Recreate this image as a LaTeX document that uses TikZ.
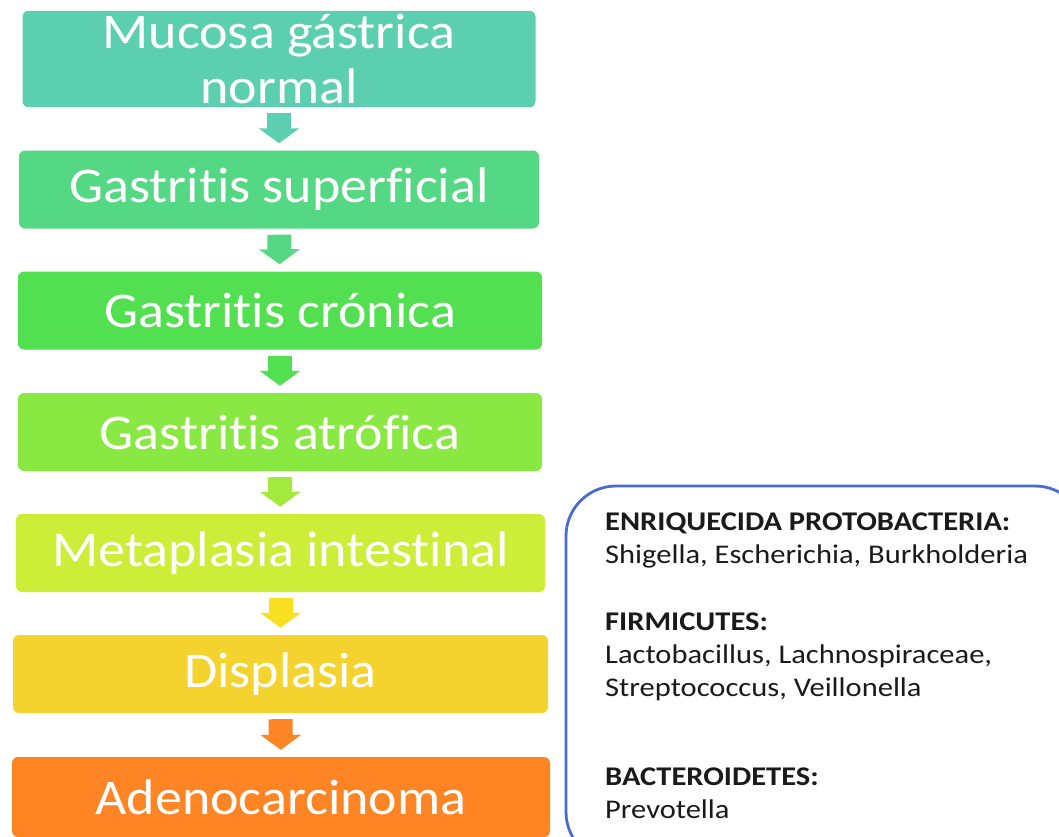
\documentclass[tikz,border=0pt]{standalone}
\usepackage{fontspec}
\setmainfont{Carlito}[Ligatures=NoCommon]
\newfontfamily\etapafont{Carlito}[FakeStretch=1.08, Ligatures=NoCommon]
\newfontfamily\bacfont{Carlito}[FakeStretch=1.13, Ligatures=NoCommon]
\usetikzlibrary{arrows.meta}
\definecolor{etMucosa}{HTML}{5DCFB1}
\definecolor{etSuperf}{HTML}{55D883}
\definecolor{etCronica}{HTML}{52DF50}
\definecolor{etAtrof}{HTML}{89E842}
\definecolor{etMeta}{HTML}{CCEE39}
\definecolor{etDispl}{HTML}{F5D32E}
\definecolor{etAdeno}{HTML}{FF8424}
\definecolor{bacAzul}{HTML}{4A6BD6}
\definecolor{bacTexto}{HTML}{1A1A1A}

\begin{document}
\begin{tikzpicture}[x=1pt, y=-1pt,
      etapa/.style={rounded corners=6pt, fill=#1, minimum height=78pt,
                    text=white, align=center,
                    font=\etapafont\fontsize{50}{55}\selectfont},
      flujo/.style={line width=24pt, draw=#1,
                    -{Triangle[width=40pt,length=15pt]},
                    shorten <=6pt, shorten >=7pt},
      grupo/.style={anchor=north west, align=left, text=bacTexto,
                    font=\bacfont\fontsize{27}{33}\selectfont, inner sep=0pt}]
    \clip (0,0) rectangle (1059,836);
    \useasboundingbox (0,0) rectangle (1059,836);
    % Secuencia de lesiones
    \node[etapa=etMucosa, minimum width=513pt, minimum height=96pt] (b1) at (279,59) {Mucosa g\'astrica\\normal};
    \node[etapa=etSuperf,  minimum width=520pt] (b2) at (279,189.5) {Gastritis superficial};
    \node[etapa=etCronica, minimum width=524pt] (b3) at (280,310.5) {Gastritis cr\'onica};
    \node[etapa=etAtrof,   minimum width=524pt] (b4) at (280,432) {Gastritis atr\'ofica};
    \node[etapa=etMeta,    minimum width=529pt] (b5) at (280.5,553) {Metaplasia intestinal};
    \node[etapa=etDispl,   minimum width=535pt] (b6) at (280.5,674) {Displasia};
    \node[etapa=etAdeno,   minimum width=538pt, minimum height=80pt] (b7) at (281,797) {Adenocarcinoma};
    \draw[flujo=etMucosa]        (b1) -- (b2);
    \draw[flujo=etSuperf]        (b2) -- (b3);
    \draw[flujo=etCronica]       (b3) -- (b4);
    \draw[flujo=etAtrof!60!etMeta] (b4) -- (b5);
    \draw[flujo=etDispl!70!yellow] (b5) -- (b6);
    \draw[flujo=etAdeno]         (b6) -- (b7);
    % Microbiota
    \draw[bacAzul, line width=2.8pt, rounded corners=50pt] (566,486) rectangle (1085,862);
    \node[grupo] (g1) at (605,513) {\textbf{ENRIQUECIDA PROTOBACTERIA:}\\Shigella, Escherichia, Burkholderia};
    \node[grupo] (g2) at (605,613) {\textbf{FIRMICUTES:}\\Lactobacillus, Lachnospiraceae,\\Streptococcus, Veillonella};
    \node[grupo] (g3) at (605,768) {\textbf{BACTEROIDETES:}\\Prevotella};
  \end{tikzpicture}
\end{document}
